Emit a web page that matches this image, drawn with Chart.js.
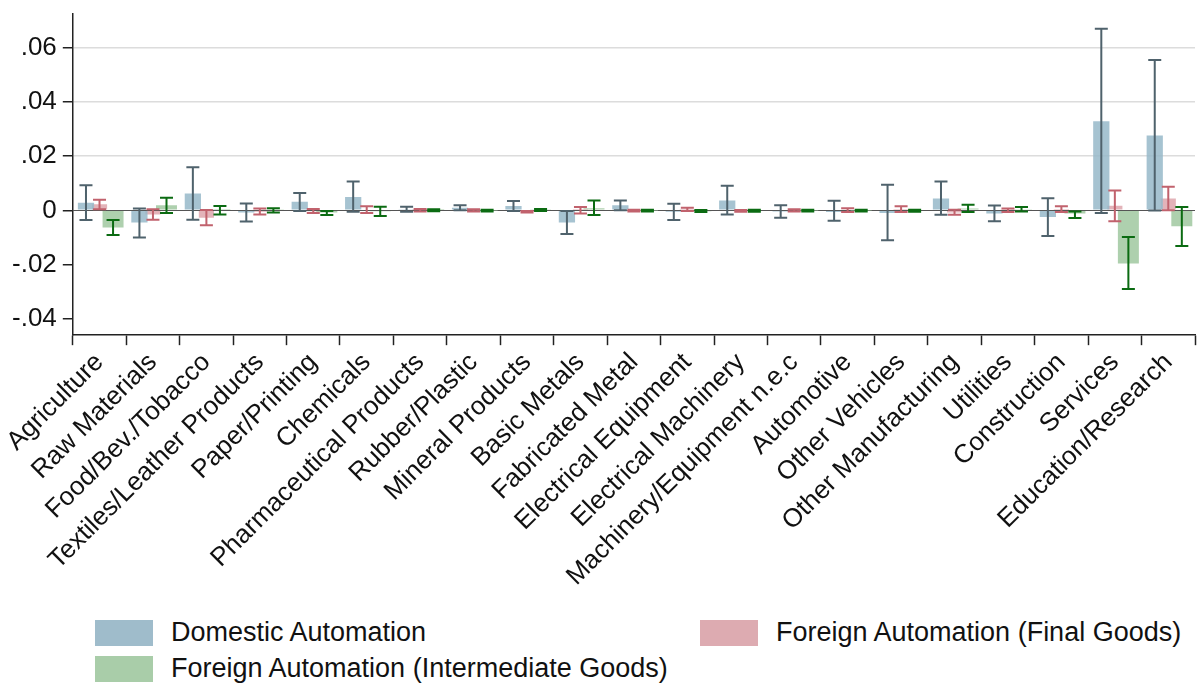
<!DOCTYPE html>
<html lang="en">
<head>
    <meta charset="UTF-8">
    <title>Automation effects by sector</title>
    <script src="https://cdn.jsdelivr.net/npm/chart.js"></script>
    <style>
        body { margin: 0; background: #fff; font-family: "Liberation Sans", Arial, sans-serif; }
        #wrap { position: relative; width: 1198px; height: 688px; overflow: hidden; }
        #chart { position: absolute; left: 0; top: -8px; }
        .leg { position: absolute; display: flex; align-items: center; font-size: 27px; color: #111; white-space: nowrap; }
        .leg span.sw { display: inline-block; width: 58px; height: 26px; margin-right: 18px; }
    </style>
</head>
<body>
<div id="wrap">
    <canvas id="chart" width="1198" height="608"></canvas>
    <div class="leg" style="left:95px; top:617px;"><span class="sw" style="background:#9fbccb"></span>Domestic Automation</div>
    <div class="leg" style="left:700px; top:617px;"><span class="sw" style="background:#ddabb1"></span>Foreign Automation (Final Goods)</div>
    <div class="leg" style="left:95px; top:653px;"><span class="sw" style="background:#a9cda9"></span>Foreign Automation (Intermediate Goods)</div>
</div>

<script>
    // sectors
    const sectors = ['Agriculture', 'Raw Materials', 'Food/Bev./Tobacco', 'Textiles/Leather Products',
        'Paper/Printing', 'Chemicals', 'Pharmaceutical Products', 'Rubber/Plastic', 'Mineral Products',
        'Basic Metals', 'Fabricated Metal', 'Electrical Equipment', 'Electrical Machinery',
        'Machinery/Equipment n.e.c', 'Automotive', 'Other Vehicles', 'Other Manufacturing',
        'Utilities', 'Construction', 'Services', 'Education/Research'];

    // domestic automation: estimate and 95% interval
    const domestic   = [0.0028, -0.0045, 0.0062, -0.0008, 0.0032, 0.0049, 0.0002, 0.0010, 0.0016, -0.0045, 0.0019, -0.0005, 0.0036, -0.0004, -0.0006, -0.0010, 0.0044, -0.0012, -0.0025, 0.0328, 0.0276];
    const domesticLo = [-0.0036, -0.0100, -0.0035, -0.0041, -0.0002, -0.0005, -0.0005, 0.0000, -0.0002, -0.0087, 0.0000, -0.0036, -0.0015, -0.0027, -0.0038, -0.0110, -0.0016, -0.0040, -0.0095, -0.0010, -0.0001];
    const domesticHi = [0.0092, 0.0007, 0.0159, 0.0025, 0.0064, 0.0106, 0.0013, 0.0019, 0.0034, -0.0002, 0.0036, 0.0024, 0.0091, 0.0019, 0.0035, 0.0094, 0.0106, 0.0018, 0.0045, 0.0669, 0.0554];

    // foreign automation, final goods
    const finalGoods   = [0.0022, -0.0015, -0.0027, -0.0005, -0.0003, 0.0003, 0.0001, 0.0000, -0.0005, 0.0005, -0.0001, 0.0005, -0.0002, 0.0000, 0.0003, 0.0005, -0.0008, 0.0002, 0.0005, 0.0017, 0.0044];
    const finalGoodsLo = [0.0004, -0.0035, -0.0055, -0.0015, -0.0010, -0.0010, -0.0004, -0.0004, -0.0008, -0.0012, -0.0004, -0.0002, -0.0005, -0.0004, -0.0006, -0.0006, -0.0016, -0.0006, -0.0006, -0.0040, 0.0000];
    const finalGoodsHi = [0.0039, 0.0004, 0.0001, 0.0007, 0.0005, 0.0015, 0.0005, 0.0004, -0.0002, 0.0012, 0.0002, 0.0010, 0.0001, 0.0004, 0.0008, 0.0015, 0.0002, 0.0007, 0.0015, 0.0073, 0.0087];

    // foreign automation, intermediate goods
    const interGoods   = [-0.0063, 0.0019, 0.0001, 0.0002, -0.0008, -0.0003, 0.0001, -0.0001, 0.0002, 0.0008, -0.0001, -0.0003, -0.0002, -0.0001, -0.0001, -0.0002, 0.0007, 0.0004, -0.0012, -0.0196, -0.0059];
    const interGoodsLo = [-0.0091, -0.0010, -0.0015, -0.0008, -0.0017, -0.0021, -0.0003, -0.0004, -0.0002, -0.0017, -0.0004, -0.0006, -0.0005, -0.0004, -0.0004, -0.0005, -0.0006, -0.0004, -0.0028, -0.0290, -0.0131];
    const interGoodsHi = [-0.0036, 0.0046, 0.0016, 0.0008, -0.0002, 0.0013, 0.0004, 0.0002, 0.0005, 0.0036, 0.0002, 0.0001, 0.0002, 0.0002, 0.0002, 0.0002, 0.0021, 0.0012, -0.0004, -0.0098, 0.0012];

    // y axis ticks
    const yTicks = [-0.04, -0.02, 0, 0.02, 0.04, 0.06];
    const yTickLabels = ['-.04', '-.02', '0', '.02', '.04', '.06'];

    const intervals = [
        { lo: domesticLo, hi: domesticHi, color: '#4f626c' },
        { lo: finalGoodsLo, hi: finalGoodsHi, color: '#c1626d' },
        { lo: interGoodsLo, hi: interGoodsHi, color: '#0b6b12' }
    ];

    // zero line + confidence intervals
    const errorBars = {
        id: 'errorBars',
        beforeDatasetsDraw(chart) {
            const { ctx, chartArea, scales } = chart;
            const y0 = Math.round(scales.y.getPixelForValue(0)) + 0.5;
            ctx.save();
            ctx.strokeStyle = '#555';
            ctx.lineWidth = 1;
            ctx.beginPath();
            ctx.moveTo(chartArea.left, y0);
            ctx.lineTo(chartArea.right, y0);
            ctx.stroke();
            ctx.restore();
        },
        afterDatasetsDraw(chart) {
            const { ctx, scales } = chart;
            ctx.save();
            intervals.forEach((iv, i) => {
                const meta = chart.getDatasetMeta(i);
                ctx.strokeStyle = iv.color;
                ctx.lineWidth = 2;
                meta.data.forEach((bar, j) => {
                    const x = bar.x;
                    const yl = scales.y.getPixelForValue(iv.lo[j]);
                    const yh = scales.y.getPixelForValue(iv.hi[j]);
                    ctx.beginPath();
                    ctx.moveTo(x, yl); ctx.lineTo(x, yh);
                    ctx.moveTo(x - 6.5, yl); ctx.lineTo(x + 6.5, yl);
                    ctx.moveTo(x - 6.5, yh); ctx.lineTo(x + 6.5, yh);
                    ctx.stroke();
                });
            });
            ctx.restore();
        }
    };

    const font = { family: '"Liberation Sans", Arial, sans-serif' };

    new Chart(document.getElementById('chart').getContext('2d'), {
        type: 'bar',
        data: {
            labels: sectors,
            datasets: [
                { label: 'Domestic Automation', data: domestic, backgroundColor: 'rgba(150,185,201,0.85)', barPercentage: 1.2 },
                { label: 'Foreign Automation (Final Goods)', data: finalGoods, backgroundColor: 'rgba(220,160,168,0.8)', barPercentage: 1.12 },
                { label: 'Foreign Automation (Intermediate Goods)', data: interGoods, backgroundColor: 'rgba(160,200,160,0.85)', barPercentage: 1.55 }
            ]
        },
        options: {
            responsive: false,
            animation: false,
            layout: { padding: { left: 6, top: 0, right: 3, bottom: 6 } },
            plugins: { legend: { display: false }, tooltip: { enabled: false } },
            datasets: { bar: { categoryPercentage: 0.76 } },
            scales: {
                x: {
                    offset: true,
                    grid: { drawOnChartArea: false, drawTicks: true, tickLength: 10, tickColor: '#222', tickWidth: 1.5 },
                    border: { color: '#222', width: 1.5 },
                    ticks: {
                        autoSkip: false, maxRotation: 45, minRotation: 45, padding: 2,
                        color: '#111', font: { ...font, size: 26 }
                    }
                },
                y: {
                    min: -0.046,
                    max: 0.0725,
                    afterBuildTicks: scale => { scale.ticks = yTicks.map(v => ({ value: v })); },
                    grid: {
                        color: c => (c.tick && c.tick.value > 0 ? '#dcdcdc' : 'rgba(0,0,0,0)'),
                        lineWidth: 1.5,
                        drawTicks: true, tickLength: 10, tickColor: '#222', tickWidth: 1.5
                    },
                    border: { color: '#222', width: 1.5 },
                    ticks: {
                        padding: 6, color: '#111', font: { ...font, size: 26 },
                        callback: (v, i) => yTickLabels[yTicks.indexOf(v)]
                    }
                }
            }
        },
        plugins: [errorBars]
    });
</script>
</body>
</html>
